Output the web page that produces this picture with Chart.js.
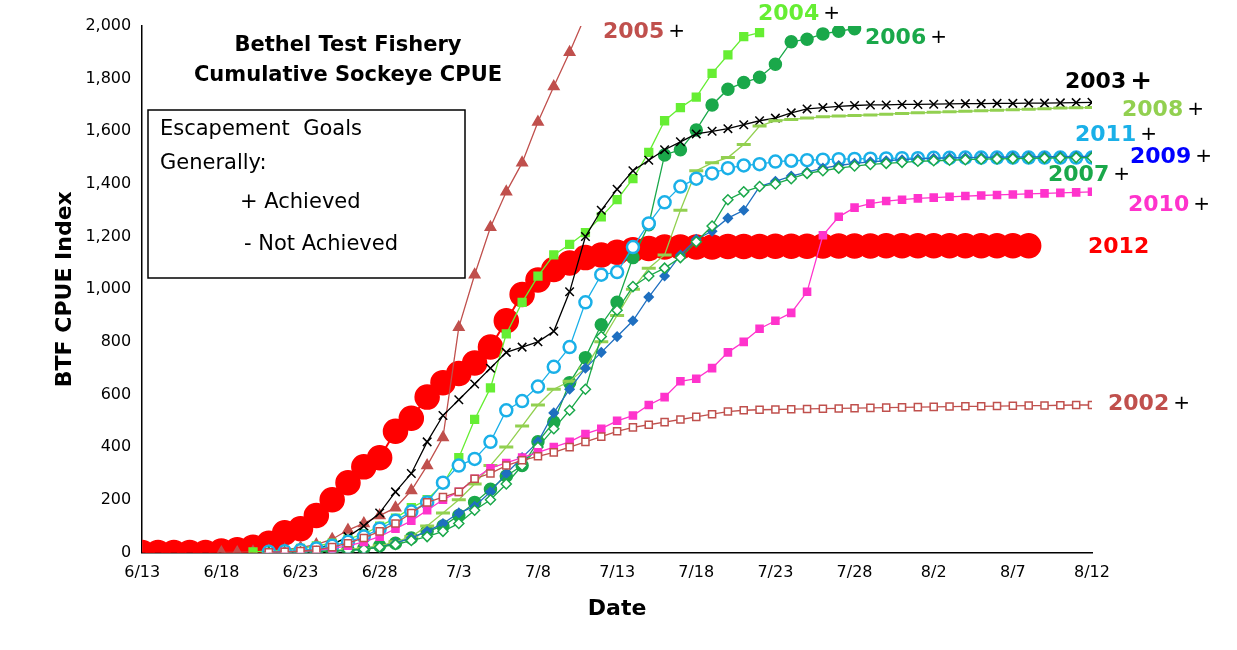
<!DOCTYPE html>
<html>
<head>
<meta charset="utf-8">
<script src="https://cdn.jsdelivr.net/npm/chart.js@4/dist/chart.umd.min.js"></script>
<style>
  body { margin:0; background:#fff; }
  #wrap { width:1237px; height:650px; }
</style>
</head>
<body>
<div id="wrap"><canvas id="c"></canvas></div>
<script>
// ---- Data (day index 0 = 6/13) ----
const START_MONTH = 6, START_DAY = 13;
const tickDays = [0, 5, 10, 15, 20, 25, 30, 35, 40, 45, 50, 55, 60];

const y2012 = [0,0,0,0,0,5,10,20,35,75,90,140,200,265,325,360,460,510,590,645,680,720,780,880,980,1035,1075,1100,1120,1130,1140,1150,1155,1160,1160,1160,1160,1162,1162,1162,1163,1163,1163,1164,1164,1164,1164,1165,1165,1165,1165,1165,1165,1165,1165,1165,1165];
const y2005 = [null,null,null,null,null,0,0,2,5,10,18,30,50,85,110,140,170,235,330,437,855,1055,1235,1370,1480,1635,1770,1900,2040];
const y2004 = [null,null,null,null,null,null,null,2,5,8,15,25,35,50,70,100,130,170,200,260,360,505,625,830,950,1050,1130,1170,1215,1275,1340,1420,1520,1640,1690,1730,1820,1890,1960,1975];
const y2006 = [null,null,null,null,null,null,null,null,0,1,2,4,6,10,15,25,35,55,80,100,140,190,240,290,330,420,495,645,740,865,950,1120,1245,1510,1530,1605,1700,1760,1785,1805,1855,1940,1950,1970,1980,1990];
const y2003 = [null,null,null,null,null,null,null,null,0,2,5,15,30,60,100,150,230,300,420,520,580,640,700,760,780,800,840,990,1200,1300,1380,1450,1490,1530,1560,1590,1600,1610,1625,1640,1650,1670,1685,1690,1695,1698,1700,1700,1702,1702,1703,1704,1705,1705,1706,1706,1707,1707,1708,1709,1710];
const y2008 = [null,null,null,null,null,null,null,null,0,1,2,4,6,10,15,25,40,60,100,150,200,260,330,400,480,560,620,650,700,800,900,1000,1080,1130,1300,1450,1480,1500,1550,1620,1640,1645,1650,1655,1658,1660,1662,1665,1668,1670,1672,1674,1676,1678,1680,1682,1684,1686,1688,1689,1690];
const y2011 = [null,null,null,null,null,null,null,null,2,4,8,15,25,40,60,90,120,155,190,265,330,355,420,540,575,630,705,780,950,1055,1065,1160,1250,1330,1390,1420,1440,1460,1470,1475,1485,1488,1490,1492,1494,1495,1496,1497,1498,1498,1499,1499,1500,1500,1500,1500,1500,1500,1500,1500,1500];
const y2009 = [null,null,null,null,null,null,null,null,0,1,2,3,5,8,12,20,35,55,80,110,150,175,230,300,360,420,530,620,700,760,820,880,970,1050,1130,1190,1220,1270,1300,1390,1410,1430,1445,1460,1470,1478,1484,1488,1492,1495,1497,1499,1500,1501,1502,1503,1503,1504,1504,1505,1505];
const y2007 = [null,null,null,null,null,null,null,null,0,1,2,3,5,8,12,20,30,45,60,80,110,160,200,260,330,400,470,540,620,820,920,1010,1050,1080,1120,1180,1240,1340,1370,1390,1400,1420,1440,1450,1460,1468,1474,1478,1482,1486,1488,1490,1492,1494,1495,1496,1497,1498,1499,1500,1500];
const y2010 = [null,null,null,null,null,null,null,null,0,2,4,8,15,25,40,60,90,120,160,200,230,280,320,340,360,380,400,420,450,470,500,520,560,590,650,660,700,760,800,850,880,910,990,1205,1275,1310,1325,1335,1340,1345,1348,1351,1354,1356,1358,1360,1362,1364,1366,1368,1370];
const y2002 = [null,null,null,null,null,null,null,null,0,2,5,10,20,35,55,80,110,150,190,210,230,280,300,330,350,365,380,400,420,440,460,475,485,495,505,515,525,535,540,542,543,544,545,546,547,548,549,550,551,552,553,554,555,555,556,557,558,558,559,560,560];

const seriesLabels = [
  { text:'2005', x:603, y:32,  color:'#c0504d' },
  { text:'2004', x:758, y:14,  color:'#66ee33' },
  { text:'2006', x:865, y:38,  color:'#1aa84a' },
  { text:'2003', x:1065, y:82, color:'#000000', big:true },
  { text:'2008', x:1122, y:110, color:'#92d050' },
  { text:'2011', x:1075, y:135, color:'#1ab0e8' },
  { text:'2009', x:1130, y:157, color:'#0000ff' },
  { text:'2007', x:1048, y:175, color:'#1aa84a' },
  { text:'2010', x:1128, y:205, color:'#ff33cc' },
  { text:'2012', x:1088, y:247, color:'#ff0000', noPlus:true },
  { text:'2002', x:1108, y:404, color:'#c0504d' },
];

function toPts(arr) {
  return arr.map((v, i) => v === null ? null : { x:i, y:v }).filter(p => p);
}
function dayLabel(d) {
  const dt = new Date(2012, START_MONTH - 1, START_DAY + d);
  return (dt.getMonth() + 1) + '/' + dt.getDate();
}

function ds(label, data, color, style, radius, fill, extra) {
  return Object.assign({
    label, data: toPts(data), borderColor: color, backgroundColor: fill ? color : '#ffffff',
    pointStyle: style, pointRadius: radius, pointBorderColor: color,
    pointBackgroundColor: fill ? color : '#ffffff', pointBorderWidth: 1.5,
    borderWidth: 1.3, tension: 0,
  }, extra || {});
}

const datasets = [
  ds('2002', y2002, '#c0504d', 'rect', 5, false),
  ds('2010', y2010, '#ff33cc', 'rect', 5, true),
  ds('2007', y2007, '#1aa84a', 'rectRot', 5, false),
  ds('2009', y2009, '#1f6fc0', 'rectRot', 4.5, true),
  ds('2011', y2011, '#1ab0e8', 'circle', 6, false, { pointBorderWidth: 2.5 }),
  ds('2008', y2008, '#92d050', 'line', 7, true, { pointBorderWidth: 3 }),
  ds('2003', y2003, '#000000', 'crossRot', 6, true, { pointBorderWidth: 1.5 }),
  ds('2006', y2006, '#1aa84a', 'circle', 6, true),
  ds('2004', y2004, '#66ee33', 'rect', 5.5, true),
  ds('2005', y2005, '#c0504d', 'triangle', 6, true),
  ds('2012', y2012, '#ff0000', 'circle', 12, true, { borderWidth: 2 }),
];

// ---- Annotations: labels, title, legend box ----
const annotate = {
  id: 'annotate',
  afterDraw(chart) {
    const c = chart.ctx;
    c.save();
    c.textBaseline = 'middle';
    seriesLabels.forEach(l => {
      c.font = 'bold 22px "DejaVu Sans"';
      c.fillStyle = l.color;
      c.textAlign = 'left';
      c.fillText(l.text, l.x, l.y);
      if (!l.noPlus) {
        const w = c.measureText(l.text).width;
        c.fillStyle = '#000';
        c.font = l.big ? 'bold 26px "DejaVu Sans"' : '20px "DejaVu Sans"';
        c.fillText('+', l.x + w + 4, l.y);
      }
    });
    c.fillStyle = '#000';
    c.textAlign = 'center';
    c.font = 'bold 21px "DejaVu Sans"';
    c.fillText('Bethel Test Fishery', 348, 46);
    c.fillText('Cumulative Sockeye CPUE', 348, 76);

    c.fillStyle = '#fff';
    c.fillRect(148, 110, 317, 168);
    c.strokeStyle = '#000';
    c.lineWidth = 1.5;
    c.strokeRect(148, 110, 317, 168);
    c.fillStyle = '#000';
    c.font = '21px "DejaVu Sans"';
    c.textAlign = 'left';
    c.fillText('Escapement  Goals', 160, 130);
    c.fillText('Generally:', 160, 164);
    c.fillText('+ Achieved', 240, 203);
    c.fillText('- Not Achieved', 244, 245);
    c.restore();
  }
};

new Chart(document.getElementById('c'), {
  type: 'line',
  data: { datasets },
  options: {
    responsive: true,
    maintainAspectRatio: false,
    animation: false,
    layout: { padding: { top: 26, right: 145, left: 48, bottom: 24 } },
    plugins: { legend: { display: false }, tooltip: { enabled: false } },
    scales: {
      x: {
        type: 'linear', min: 0, max: 60,
        afterBuildTicks: ax => { ax.ticks = tickDays.map(v => ({ value: v })); },
        ticks: { callback: v => dayLabel(v), font: { family: 'DejaVu Sans', size: 16 }, color: '#000', maxRotation: 0 },
        grid: { display: false, drawTicks: true },
        border: { color: '#000', width: 1.5 },
        title: { display: true, text: 'Date', font: { family: 'DejaVu Sans', size: 22, weight: 'bold' }, color: '#000', padding: { top: 10 } },
      },
      y: {
        min: 0, max: 2000,
        ticks: { stepSize: 200, callback: v => v.toLocaleString('en-US'), font: { family: 'DejaVu Sans', size: 16 }, color: '#000' },
        grid: { display: false },
        border: { color: '#000', width: 1.5 },
        title: { display: true, text: 'BTF CPUE Index', font: { family: 'DejaVu Sans', size: 22, weight: 'bold' }, color: '#000' },
      },
    },
  },
  plugins: [annotate],
});
</script>
</body>
</html>
